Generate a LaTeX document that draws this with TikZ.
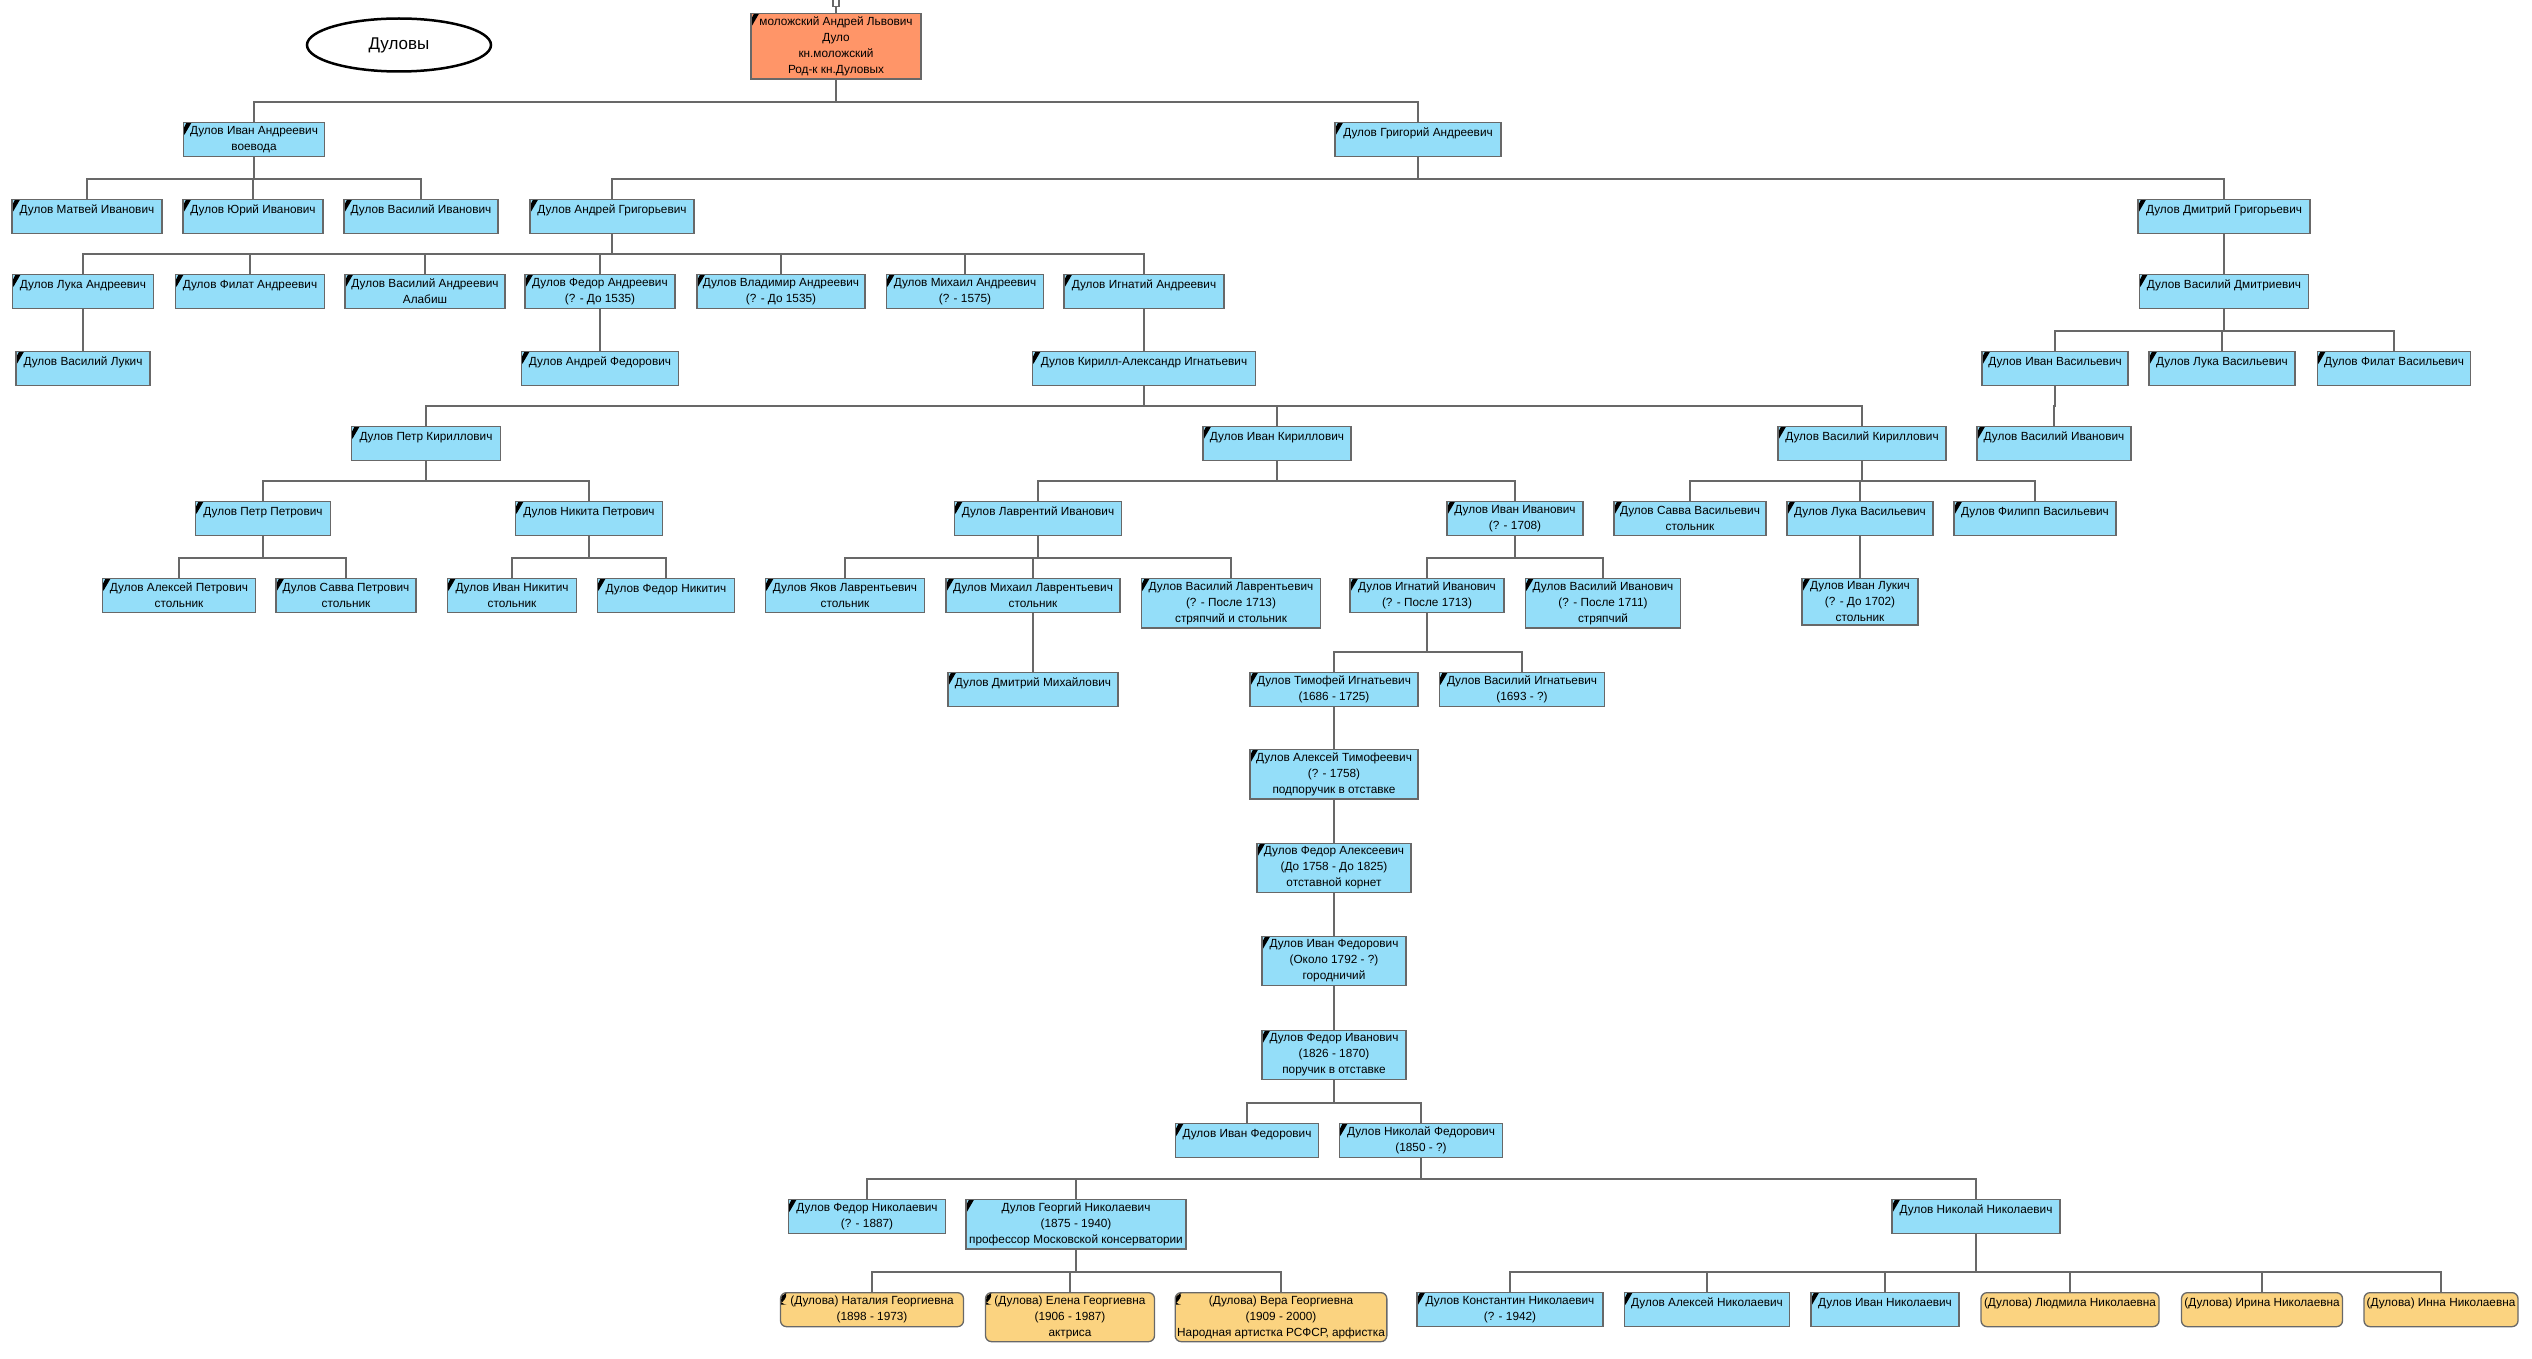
\documentclass[tikz,border=0pt]{standalone}
\usepackage{fontspec}
\setmainfont{Liberation Sans}
\usepackage{xcolor}
\usepackage{tikz}
\usetikzlibrary{shapes.geometric}

\definecolor{persblue}{RGB}{148,222,249}
\definecolor{rootorange}{RGB}{255,149,104}
\definecolor{femyellow}{RGB}{251,211,128}
\definecolor{edgegray}{RGB}{104,104,104}

\begin{document}
\begin{tikzpicture}[x=1pt, y=-1pt,
    person/.style={draw=edgegray, fill=persblue, line width=1.3pt, anchor=north, align=center,
      inner xsep=2pt, inner ysep=3pt, minimum height=34pt, font=\fontsize{11.8}{16}\selectfont,
      path picture={\fill[black] (path picture bounding box.north west) ++(3pt,0pt) -- ++(5pt,0pt)
        -- ++(-7pt,-12pt) -- ++(-1pt,0pt) -- ++(0pt,6pt) -- cycle;}},
    oneline/.style={text height=11pt, text depth=17pt},
    female/.style={person, fill=femyellow, rounded corners=6pt},
    nomark/.style={path picture={}},
    link/.style={draw=edgegray, line width=2pt}]
    \useasboundingbox (0,0) rectangle (2532,1359);
    % Заголовок
    \node[draw, ellipse, line width=2.5pt, minimum width=184pt, minimum height=53pt,
      font=\fontsize{17}{20}\selectfont] (title) at (399,45) {Дуловы};
    % Родоначальник
    \node[draw=edgegray, line width=1.3pt, fill=white, minimum width=6pt, minimum height=7pt,
      inner sep=0pt] (stub) at (836,3) {};
    \node[person, fill=rootorange, minimum width=170pt] (root) at (836,13)
      {моложский Андрей Львович\\Дуло\\кн.моложский\\Род-к кн.Дуловых};
    % Сыновья
    \node[person, minimum width=141pt] (ivanA) at (254,122) {Дулов Иван Андреевич\\воевода};
    \node[person, oneline, minimum width=166pt] (grigA) at (1418,122) {Дулов Григорий Андреевич};
    \node[person, oneline, minimum width=150pt] (matvI) at (87,199) {Дулов Матвей Иванович};
    \node[person, oneline, minimum width=140pt] (yuriI) at (253,199) {Дулов Юрий Иванович};
    \node[person, oneline, minimum width=154pt] (vasI) at (421,199) {Дулов Василий Иванович};
    \node[person, oneline, minimum width=164pt] (andrG) at (612,199) {Дулов Андрей Григорьевич};
    \node[person, oneline, minimum width=172pt] (dmitG) at (2224,199) {Дулов Дмитрий Григорьевич};
    % Андреевичи
    \node[person, oneline, minimum width=141pt] (lukaA) at (83,274) {Дулов Лука Андреевич};
    \node[person, oneline, minimum width=149pt] (filA) at (250,274) {Дулов Филат Андреевич};
    \node[person, minimum width=160pt] (vasA) at (425,274) {Дулов Василий Андреевич\\Алабиш};
    \node[person, minimum width=150pt] (fedA) at (600,274) {Дулов Федор Андреевич\\(? - До 1535)};
    \node[person, minimum width=168pt] (vladA) at (781,274) {Дулов Владимир Андреевич\\(? - До 1535)};
    \node[person, minimum width=157pt] (mikhA) at (965,274) {Дулов Михаил Андреевич\\(? - 1575)};
    \node[person, oneline, minimum width=160pt] (ignA) at (1144,274) {Дулов Игнатий Андреевич};
    \node[person, oneline, minimum width=169pt] (vasD) at (2224,274) {Дулов Василий Дмитриевич};
    \node[person, oneline, minimum width=146pt] (ivanV) at (2055,351) {Дулов Иван Васильевич};
    \node[person, oneline, minimum width=146pt] (lukaV) at (2222,351) {Дулов Лука Васильевич};
    \node[person, oneline, minimum width=153pt] (filV) at (2394,351) {Дулов Филат Васильевич};
    \node[person, oneline, minimum width=134pt] (vasL) at (83,351) {Дулов Василий Лукич};
    \node[person, oneline, minimum width=157pt] (andrF) at (600,351) {Дулов Андрей Федорович};
    \node[person, oneline, minimum width=223pt] (kirill) at (1144,351) {Дулов Кирилл-Александр Игнатьевич};
    \node[person, oneline, minimum width=154pt] (vasIv) at (2054,426) {Дулов Василий Иванович};
    % Кирилловичи
    \node[person, oneline, minimum width=149pt] (petrK) at (426,426) {Дулов Петр Кириллович};
    \node[person, oneline, minimum width=148pt] (ivanK) at (1277,426) {Дулов Иван Кириллович};
    \node[person, oneline, minimum width=168pt] (vasK) at (1862,426) {Дулов Василий Кириллович};
    \node[person, oneline, minimum width=135pt] (petrP) at (263,501) {Дулов Петр Петрович};
    \node[person, oneline, minimum width=147pt] (nikitaP) at (589,501) {Дулов Никита Петрович};
    \node[person, oneline, minimum width=167pt] (lavrI) at (1038,501) {Дулов Лаврентий Иванович};
    \node[person, minimum width=136pt] (ivanI) at (1515,501) {Дулов Иван Иванович\\(? - 1708)};
    \node[person, minimum width=152pt] (savvaV) at (1690,501) {Дулов Савва Васильевич\\стольник};
    \node[person, oneline, minimum width=146pt] (lukaV2) at (1860,501) {Дулов Лука Васильевич};
    \node[person, oneline, minimum width=162pt] (filipV) at (2035,501) {Дулов Филипп Васильевич};
    \node[person, minimum width=153pt] (alekP) at (179,578) {Дулов Алексей Петрович\\стольник};
    \node[person, minimum width=140pt] (savvaP) at (346,578) {Дулов Савва Петрович\\стольник};
    \node[person, minimum width=129pt] (ivanN) at (512,578) {Дулов Иван Никитич\\стольник};
    \node[person, oneline, minimum width=137pt] (fedN) at (666,578) {Дулов Федор Никитич};
    \node[person, minimum width=159pt] (yakovL) at (845,578) {Дулов Яков Лаврентьевич\\стольник};
    \node[person, minimum width=174pt] (mikhL) at (1033,578) {Дулов Михаил Лаврентьевич\\стольник};
    \node[person, minimum width=179pt] (vasL2) at (1231,578)
      {Дулов Василий Лаврентьевич\\(? - После 1713)\\стряпчий и стольник};
    \node[person, minimum width=154pt] (ignI) at (1427,578) {Дулов Игнатий Иванович\\(? - После 1713)};
    \node[person, minimum width=155pt] (vasI2) at (1603,578)
      {Дулов Василий Иванович\\(? - После 1711)\\стряпчий};
    \node[person, minimum width=116pt] (ivanL) at (1860,578) {Дулов Иван Лукич\\(? - До 1702)\\стольник};
    \node[person, oneline, minimum width=170pt] (dmitM) at (1033,672) {Дулов Дмитрий Михайлович};
    % Прямая линия
    \node[person, minimum width=168pt] (timI) at (1334,672) {Дулов Тимофей Игнатьевич\\(1686 - 1725)};
    \node[person, minimum width=165pt] (vasIg) at (1522,672) {Дулов Василий Игнатьевич\\(1693 - ?)};
    \node[person, minimum width=168pt] (alekT) at (1334,749)
      {Дулов Алексей Тимофеевич\\(? - 1758)\\подпоручик в отставке};
    \node[person, minimum width=154pt] (fedAl) at (1334,843)
      {Дулов Федор Алексеевич\\(До 1758 - До 1825)\\отставной корнет};
    \node[person, minimum width=144pt] (ivanF) at (1334,936)
      {Дулов Иван Федорович\\(Около 1792 - ?)\\городничий};
    \node[person, minimum width=144pt] (fedI) at (1334,1030)
      {Дулов Федор Иванович\\(1826 - 1870)\\поручик в отставке};
    \node[person, oneline, minimum width=143pt] (ivanF2) at (1247,1123) {Дулов Иван Федорович};
    \node[person, minimum width=163pt] (nikF) at (1421,1123) {Дулов Николай Федорович\\(1850 - ?)};
    \node[person, minimum width=157pt] (fedNk) at (867,1199) {Дулов Федор Николаевич\\(? - 1887)};
    \node[person, minimum width=220pt] (georgN) at (1076,1199)
      {Дулов Георгий Николаевич\\(1875 - 1940)\\профессор Московской консерватории};
    \node[person, oneline, minimum width=168pt] (nikN) at (1976,1199) {Дулов Николай Николаевич};
    % Внуки
    \node[female, minimum width=183pt] (natalG) at (872,1292) {(Дулова) Наталия Георгиевна\\(1898 - 1973)};
    \node[female, minimum width=169pt] (elenaG) at (1070,1292)
      {(Дулова) Елена Георгиевна\\(1906 - 1987)\\актриса};
    \node[female, minimum width=210pt] (veraG) at (1281,1292)
      {(Дулова) Вера Георгиевна\\(1909 - 2000)\\Народная артистка РСФСР, арфистка};
    \node[person, minimum width=186pt] (konstN) at (1510,1292) {Дулов Константин Николаевич\\(? - 1942)};
    \node[person, oneline, minimum width=165pt] (alekN) at (1707,1292) {Дулов Алексей Николаевич};
    \node[person, oneline, minimum width=148pt] (ivanN2) at (1885,1292) {Дулов Иван Николаевич};
    \node[female, nomark, oneline, minimum width=178pt] (lyudN) at (2070,1292) {(Дулова) Людмила Николаевна};
    \node[female, nomark, oneline, minimum width=161pt] (irinaN) at (2262,1292) {(Дулова) Ирина Николаевна};
    \node[female, nomark, oneline, minimum width=154pt] (innaN) at (2441,1292) {(Дулова) Инна Николаевна};
    % Связи
    \draw[link] (stub) -- (root);
    \foreach \p/\c in {root/ivanA, root/grigA, ivanA/matvI, ivanA/yuriI, ivanA/vasI,
        grigA/andrG, grigA/dmitG, andrG/lukaA, andrG/filA, andrG/vasA, andrG/fedA,
        andrG/vladA, andrG/mikhA, andrG/ignA, dmitG/vasD, vasD/ivanV, vasD/lukaV, vasD/filV,
        lukaA/vasL, fedA/andrF, ignA/kirill, ivanV/vasIv, kirill/petrK, kirill/ivanK, kirill/vasK,
        petrK/petrP, petrK/nikitaP, ivanK/lavrI, ivanK/ivanI, vasK/savvaV, vasK/lukaV2,
        vasK/filipV, petrP/alekP, petrP/savvaP, nikitaP/ivanN, nikitaP/fedN, lavrI/yakovL,
        lavrI/mikhL, lavrI/vasL2, ivanI/ignI, ivanI/vasI2, lukaV2/ivanL, mikhL/dmitM,
        ignI/timI, ignI/vasIg, timI/alekT, alekT/fedAl, fedAl/ivanF, ivanF/fedI,
        fedI/ivanF2, fedI/nikF, nikF/fedNk, nikF/georgN, nikF/nikN, georgN/natalG,
        georgN/elenaG, georgN/veraG, nikN/konstN, nikN/alekN, nikN/ivanN2, nikN/lyudN,
        nikN/irinaN, nikN/innaN}
      \draw[link] (\p.south) |- ([yshift=20pt]\c.north) -- (\c.north);
\end{tikzpicture}
\end{document}
